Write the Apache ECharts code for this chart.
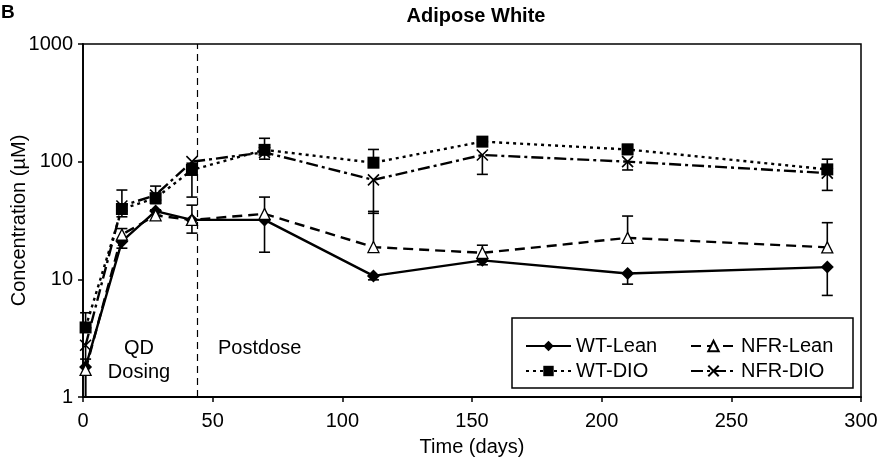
<!DOCTYPE html>
<html>
<head>
<meta charset="utf-8">
<script src="https://cdn.jsdelivr.net/npm/echarts@6/dist/echarts.min.js"></script>
<style>
  html, body { margin: 0; padding: 0; background: #fff; }
  #chart { width: 878px; height: 461px; }
</style>
</head>
<body>
<div id="chart"></div>
<script>
// sampling days
const days = [1, 15, 28, 42, 70, 112, 154, 210, 287]
// mean concentrations (µM) and SD
const wtLean = [1.8, 21, 38, 32, 32, 10.7, 14.5, 11.2, 12.7]
const wtLeanErr = [1.0, 2.6, 3, 7.3, 15, 0.8, 1.2, 2.1, 5.4]
const nfrLean = [1.7, 24, 35, 32, 36, 18.8, 16.8, 22.5, 18.7]
const nfrLeanErr = [0.4, 3, 4, 10.7, 14, 19, 2.7, 12, 11.6]
const wtDio = [3.9, 39.6, 49, 85, 126, 98, 148, 127, 86]
const wtDioErr = [1.3, 17.8, 13, 12, 32, 29, 5, 13, 19]
const nfrDio = [2.75, 42, 52, 100, 120, 70, 114, 100, 80]
const nfrDioErr = [2.0, 8, 8, 50, 15, 33.6, 36, 15, 23]
const dosingEnd = 44
const xTicks = [0, 300, 50] // min, max, interval
const yRange = [1, 1000]

const font = 'Liberation Sans, Arial, sans-serif'
const fs = 20
const crossPath = 'path://M0,0L10,10M10,0L0,10'

const pairs = (ys) => days.map((d, i) => [d, ys[i]])

// one sided error bars: [x, mean, end, hasCap]
const errData = (ys, errs, up) => days.map((d, i) => {
  let end = up ? ys[i] + errs[i] : ys[i] - errs[i]
  let cap = 1
  if (end < yRange[0]) {
    end = yRange[0]
    cap = 0
  }
  return [d, ys[i], end, cap]
})

const renderErr = (params, api) => {
  const x = api.value(0)
  const p0 = api.coord([x, api.value(1)])
  const p1 = api.coord([x, api.value(2)])
  const children = [{
    type: 'line',
    shape: { x1: p0[0], y1: p0[1], x2: p1[0], y2: p1[1] },
    style: { stroke: '#000', lineWidth: 1.6 }
  }]
  if (api.value(3)) {
    children.push({
      type: 'line',
      shape: { x1: p1[0] - 5.5, y1: p1[1], x2: p1[0] + 5.5, y2: p1[1] },
      style: { stroke: '#000', lineWidth: 1.6 }
    })
  }
  return { type: 'group', children }
}

const errSeries = (name, ys, errs, up) => ({
  name,
  type: 'custom',
  renderItem: renderErr,
  encode: { x: 0, y: [1, 2] },
  data: errData(ys, errs, up),
  z: 1,
  silent: true
})

const lineSeries = (name, ys, symbol, size, lineType, itemStyle) => ({
  name,
  type: 'line',
  data: pairs(ys),
  symbol,
  symbolSize: size,
  showAllSymbol: true,
  lineStyle: { color: '#000', width: 2.4, type: lineType },
  itemStyle,
  z: 3
})

const legendBase = {
  orient: 'vertical',
  top: 336,
  padding: 0,
  itemWidth: 45,
  itemHeight: 13,
  itemGap: 5,
  textStyle: { fontFamily: font, fontSize: fs, color: '#000' },
  selectedMode: false
}

const chart = echarts.init(document.getElementById('chart'))
chart.setOption({
  animation: false,
  textStyle: { fontFamily: font },
  title: {
    text: 'Adipose White',
    left: 471,
    top: 1,
    textAlign: 'center',
    textStyle: { fontFamily: font, fontSize: 20, fontWeight: 'bold', color: '#000' }
  },
  grid: {
    left: 83,
    right: 17,
    top: 44,
    bottom: 64,
    outerBoundsMode: 'none',
    show: true,
    borderColor: '#000',
    borderWidth: 1.5
  },
  legend: [
    Object.assign({ left: 525, data: ['WT-Lean', 'WT-DIO'] }, legendBase),
    Object.assign({ left: 690, data: ['NFR-Lean', 'NFR-DIO'] }, legendBase)
  ],
  xAxis: {
    type: 'value',
    min: xTicks[0],
    max: xTicks[1],
    interval: xTicks[2],
    name: 'Time (days)',
    nameLocation: 'middle',
    nameGap: 40,
    nameTextStyle: { fontFamily: font, fontSize: fs, color: '#000' },
    axisLine: { lineStyle: { color: '#000', width: 1.8 } },
    axisTick: { length: 5, lineStyle: { color: '#000', width: 1.5 } },
    axisLabel: { fontFamily: font, fontSize: fs, color: '#000', margin: 14 },
    splitLine: { show: false }
  },
  yAxis: {
    type: 'log',
    logBase: 10,
    min: yRange[0],
    max: yRange[1],
    name: 'Concentration (µM)',
    nameLocation: 'middle',
    nameGap: 54,
    nameMoveOverlap: false,
    nameTextStyle: { fontFamily: font, fontSize: fs, color: '#000' },
    axisLine: { lineStyle: { color: '#000', width: 1.8 } },
    axisTick: { length: 5, lineStyle: { color: '#000', width: 1.5 } },
    minorTick: { show: false },
    axisLabel: { fontFamily: font, fontSize: fs, color: '#000', margin: 10, formatter: (v) => String(v) },
    splitLine: { show: false }
  },
  graphic: [
    {
      type: 'text', left: 1, top: 3,
      style: { text: 'B', font: 'bold 19px ' + font, fill: '#000' }
    },
    {
      type: 'text', x: 139, y: 348,
      style: { text: 'QD', font: fs + 'px ' + font, fill: '#000', align: 'center', verticalAlign: 'middle' }
    },
    {
      type: 'text', x: 139, y: 372,
      style: { text: 'Dosing', font: fs + 'px ' + font, fill: '#000', align: 'center', verticalAlign: 'middle' }
    },
    {
      type: 'text', x: 218, y: 348,
      style: { text: 'Postdose', font: fs + 'px ' + font, fill: '#000', verticalAlign: 'middle' }
    },
    {
      type: 'rect',
      shape: { x: 512, y: 318, width: 341, height: 70 },
      style: { fill: 'none', stroke: '#000', lineWidth: 1.5 }
    }
  ],
  series: [
    errSeries('err-wt-lean', wtLean, wtLeanErr, false),
    errSeries('err-nfr-lean', nfrLean, nfrLeanErr, true),
    errSeries('err-wt-dio', wtDio, wtDioErr, true),
    errSeries('err-nfr-dio', nfrDio, nfrDioErr, false),
    Object.assign(lineSeries('WT-Lean', wtLean, 'diamond', 13, 'solid',
      { color: '#000' }), {
      markLine: {
        silent: true,
        symbol: 'none',
        label: { show: false },
        lineStyle: { color: '#000', width: 1.2, type: [7, 5] },
        data: [{ xAxis: dosingEnd }]
      }
    }),
    lineSeries('NFR-Lean', nfrLean, 'triangle', 11, [10, 6],
      { color: '#fff', borderColor: '#000', borderWidth: 1.3 }),
    lineSeries('WT-DIO', wtDio, 'rect', 12, [3, 4],
      { color: '#000' }),
    lineSeries('NFR-DIO', nfrDio, crossPath, 11, [12, 4, 3, 4],
      { color: 'none', borderColor: '#000', borderWidth: 1.6 })
  ]
})
</script>
</body>
</html>
